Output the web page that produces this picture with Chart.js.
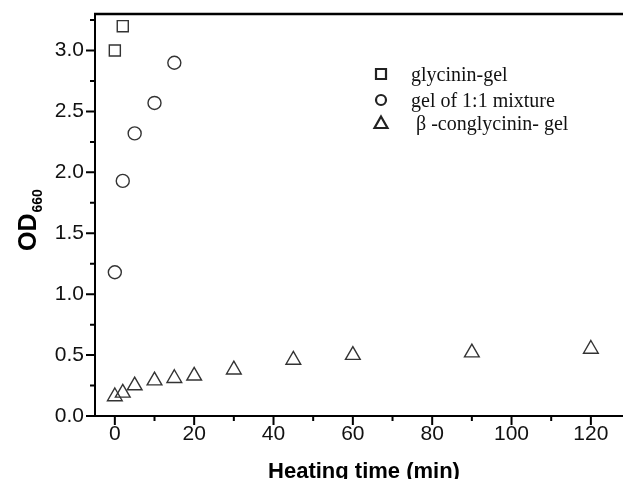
<!DOCTYPE html>
<html>
<head>
<meta charset="utf-8">
<script src="https://cdn.jsdelivr.net/npm/chart.js@4"></script>
<style>
  html, body { margin: 0; padding: 0; background: #fff; overflow: hidden; }
  canvas { display: block; }
</style>
</head>
<body>
<canvas id="chart" width="623" height="479"></canvas>
<script>
// data
const seriesNames = ['glycinin-gel', 'gel of 1:1 mixture', ' \u03b2 -conglycinin- gel'];
const glyTime = [0, 2];
const glyOD = [3.0, 3.2];
const mixTime = [0, 2, 5, 10, 15];
const mixOD = [1.18, 1.93, 2.32, 2.57, 2.90];
const conTime = [0, 2, 5, 10, 15, 20, 30, 45, 60, 90, 120];
const conOD = [0.16, 0.19, 0.25, 0.29, 0.31, 0.33, 0.38, 0.46, 0.50, 0.52, 0.55];

const xMajor = [0, 20, 40, 60, 80, 100, 120];
const xMinor = [10, 30, 50, 70, 90, 110, 130];
const yMajor = [0, 0.5, 1.0, 1.5, 2.0, 2.5, 3.0];
const yMinor = [0.25, 0.75, 1.25, 1.75, 2.25, 2.75, 3.25];

const toPts = (xs, ys) => xs.map((x, i) => ({ x: x, y: ys[i] }));
const ink = '#222';

// axes ticks, top frame line, titles and legend
const decor = {
  id: 'decor',
  afterDraw(chart) {
    const ctx = chart.ctx;
    const ca = chart.chartArea;
    const xs = chart.scales.x, ys = chart.scales.y;
    ctx.save();
    ctx.strokeStyle = '#000';
    ctx.lineWidth = 2;
    ctx.beginPath();
    xMajor.forEach(v => { const p = xs.getPixelForValue(v); ctx.moveTo(p, ca.bottom); ctx.lineTo(p, ca.bottom + 9); });
    xMinor.forEach(v => { const p = xs.getPixelForValue(v); if (p <= ca.right) { ctx.moveTo(p, ca.bottom); ctx.lineTo(p, ca.bottom + 5); } });
    yMajor.forEach(v => { const p = ys.getPixelForValue(v); ctx.moveTo(ca.left, p); ctx.lineTo(ca.left - 9, p); });
    yMinor.forEach(v => { const p = ys.getPixelForValue(v); ctx.moveTo(ca.left, p); ctx.lineTo(ca.left - 5, p); });
    ctx.stroke();

    // top frame
    ctx.lineWidth = 2.5;
    ctx.beginPath();
    ctx.moveTo(ca.left - 1, ca.top);
    ctx.lineTo(ca.right, ca.top);
    ctx.stroke();

    // x title
    ctx.fillStyle = '#000';
    ctx.font = 'bold 22px "Liberation Sans", Arial, sans-serif';
    ctx.textAlign = 'center';
    ctx.textBaseline = 'alphabetic';
    ctx.fillText('Heating time (min)', 364, 478);

    // y title with subscript
    ctx.translate(36, 251);
    ctx.rotate(-Math.PI / 2);
    ctx.textAlign = 'left';
    ctx.font = 'bold 25px "Liberation Sans", Arial, sans-serif';
    ctx.fillText('OD', 0, 0);
    const w = ctx.measureText('OD').width;
    ctx.font = 'bold 14px "Liberation Sans", Arial, sans-serif';
    ctx.fillText('660', w + 1, 6);
    ctx.setTransform(1, 0, 0, 1, 0, 0);

    // legend
    const lx = 381, ty = [74, 100, 123];
    ctx.lineWidth = 2.2;
    ctx.strokeStyle = ink;
    ctx.beginPath();
    ctx.rect(lx - 5, ty[0] - 5, 10, 10);
    ctx.stroke();
    ctx.beginPath();
    ctx.arc(lx, ty[1], 5, 0, Math.PI * 2);
    ctx.stroke();
    ctx.beginPath();
    ctx.moveTo(lx, ty[2] - 6.5);
    ctx.lineTo(lx + 6.5, ty[2] + 5);
    ctx.lineTo(lx - 6.5, ty[2] + 5);
    ctx.closePath();
    ctx.stroke();
    ctx.fillStyle = '#111';
    ctx.font = '20px "Liberation Serif", "Times New Roman", serif';
    ctx.textBaseline = 'alphabetic';
    seriesNames.forEach((s, i) => ctx.fillText(s, 411, ty[i] + 7));
    ctx.restore();
  }
};

const mk = (label, xs, ys, style, r) => ({
  label: label,
  data: toPts(xs, ys),
  pointStyle: style,
  pointRadius: r,
  pointHoverRadius: r,
  pointBorderWidth: 1.4,
  borderColor: '#333',
  backgroundColor: 'rgba(0,0,0,0)',
  pointBackgroundColor: 'rgba(0,0,0,0)',
  showLine: false
});

new Chart(document.getElementById('chart'), {
  type: 'scatter',
  data: {
    datasets: [
      mk(seriesNames[0], glyTime, glyOD, 'rect', 7.8),
      mk(seriesNames[1], mixTime, mixOD, 'circle', 6.5),
      mk(seriesNames[2], conTime, conOD, 'triangle', 8.5)
    ]
  },
  options: {
    responsive: false,
    animation: false,
    layout: { autoPadding: false, padding: { top: 14, right: 0, left: 0, bottom: 0 } },
    plugins: { legend: { display: false }, tooltip: { enabled: false } },
    scales: {
      x: {
        type: 'linear',
        min: -5, max: 128.1,
        afterBuildTicks: s => { s.ticks = xMajor.map(v => ({ value: v })); },
        afterFit: s => { s.height = 63; s.paddingLeft = 0; s.paddingRight = 0; },
        grid: { display: false, drawTicks: false },
        border: { display: true, color: '#000', width: 2 },
        ticks: { color: '#111', padding: 6, maxRotation: 0, font: { family: '"Liberation Sans", Arial, sans-serif', size: 21 } }
      },
      y: {
        type: 'linear',
        min: 0, max: 3.3,
        afterBuildTicks: s => { s.ticks = yMajor.map(v => ({ value: v })); },
        afterFit: s => { s.width = 95; s.paddingTop = 0; s.paddingBottom = 0; },
        grid: { display: false, drawTicks: false },
        border: { display: true, color: '#000', width: 2 },
        ticks: { color: '#111', padding: 11, callback: v => v.toFixed(1), font: { family: '"Liberation Sans", Arial, sans-serif', size: 21 } }
      }
    }
  },
  plugins: [decor]
});
</script>
</body>
</html>
